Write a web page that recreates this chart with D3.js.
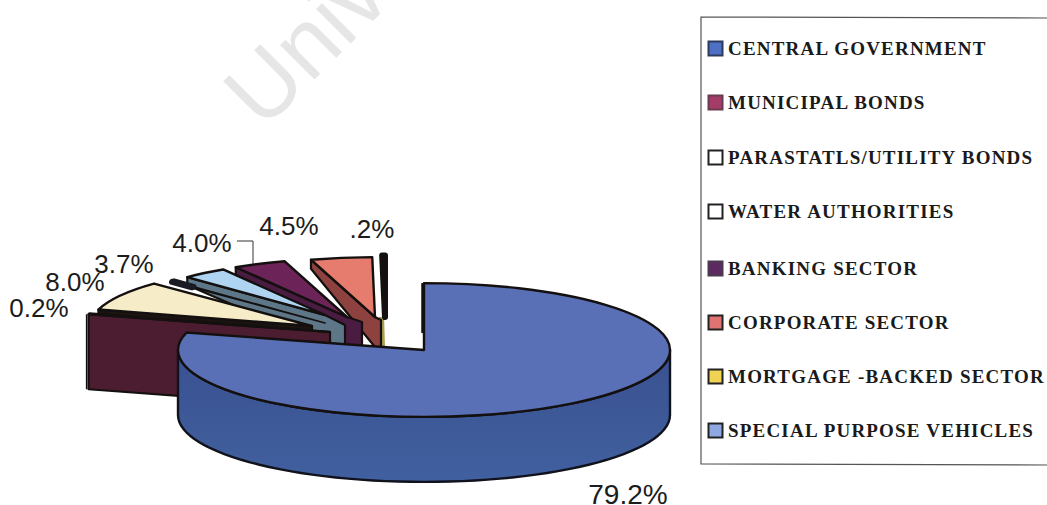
<!DOCTYPE html>
<html><head><meta charset="utf-8">
<script src="https://cdn.jsdelivr.net/npm/d3@7/dist/d3.min.js"></script>
<style>html,body{margin:0;padding:0;background:#fff;overflow:hidden}svg{display:block}</style>
</head><body><svg id="c" width="1047" height="505"></svg>
<script>
const categories = ["CENTRAL GOVERNMENT","MUNICIPAL BONDS","PARASTATLS/UTILITY BONDS","WATER AUTHORITIES","BANKING SECTOR","CORPORATE SECTOR","MORTGAGE -BACKED SECTOR","SPECIAL PURPOSE VEHICLES"];
const shares = [79.2,0.2,8.0,3.7,4.0,4.5,0.2,0.2];
const shareLabels = ["79.2%","0.2%","8.0%","3.7%","4.0%","4.5%",".2%",""];
const pieSequence = [0,1,2,7,3,4,5,6];

// styling and layout, by category index
const topColors = ["#5a70b6","#3a1220","#f6edc8","#aed4f2","#6c2458","#e67c6e","#141414","#1a1a24"];
const wallColors = ["#3d5592","#4c1d30","#1c1410","#5e7788","#4a1c42","#8e4240","#a8a24e","#1a1a24"];
const swatchFill = ["#4f6fc4","#a33c66","#ffffff","#ffffff","#5c2a60","#e07472","#f0d254","#90a8e0"];
const swatchEdge = ["#2c3a5c","#6a3a50","#222222","#222222","#4a3a50","#222222","#222222","#222222"];
const geom = [
 {dx:0,   dy:0,  r:246, rim:65, apex:65, wx:0,  wy:0},
 {dx:-94, dy:-18,r:250, rim:75, apex:75, wx:0,  wy:0},
 {dx:-112,dy:-24,r:222, rim:4,  apex:10, wx:0,  wy:0},
 {dx:-99, dy:-35,r:196, rim:8,  apex:30, wx:20, wy:10},
 {dx:-77, dy:-33,r:214, rim:8,  apex:28, wx:15, wy:5},
 {dx:-49, dy:-33,r:220, rim:9,  apex:30, wx:6,  wy:3},
 {dx:-39, dy:-33,r:226, rim:0,  apex:30, wx:-6, wy:0},
 {dx:-99, dy:-27,r:215, rim:0,  apex:0,  wx:0,  wy:0}
];
const drawOrder = [6,5,4,3,7,2,1,0];
const cx=424, cy=350, k=0.272;
const labelPos = {0:[628,504],1:[39,317],2:[75,291],3:[124,273],4:[202,252],5:[289,235],6:[372,238]};
const legendY = [48,102,157,211,268,322,376,430];

const svg=d3.select("#c");

svg.append("text").text("Univ").attr("transform","translate(263,131) rotate(-45)")
  .attr("font-family","Liberation Sans").attr("font-size",92).attr("fill","#e6e6e6");

const pie=d3.pie().value(d=>d.v).sort((a,b)=>pieSequence.indexOf(a.i)-pieSequence.indexOf(b.i));
const arcs=pie(shares.map((v,i)=>({v,i})));
const byIndex={}; arcs.forEach(a=>byIndex[a.data.i]=a);

const ex=(g,a,ox,oy)=>[ox+g.r*Math.sin(a), oy-g.r*k*Math.cos(a)];
const g0=svg.append("g");

const grad=svg.append("defs").append("linearGradient").attr("id","w").attr("x1",0).attr("x2",0).attr("y1",0).attr("y2",1);
grad.append("stop").attr("offset","0%").attr("stop-color","#3a5190");
grad.append("stop").attr("offset","100%").attr("stop-color","#41609f");

drawOrder.forEach(i=>{
  const a=byIndex[i], g=geom[i], ox=cx+g.dx, oy=cy+g.dy;
  if(i===0){
    const lo=Math.PI/2, hi=Math.PI*1.5;
    const t=d3.range(0,61).map(n=>lo+(hi-lo)*n/60);
    const pts=t.map(x=>ex(g,x,ox,oy)).concat(t.slice().reverse().map(x=>{const p=ex(g,x,ox,oy);return [p[0],p[1]+g.rim];}));
    g0.append("path").attr("d",d3.line()(pts)+"Z").attr("fill","url(#w)").attr("stroke","#10121c").attr("stroke-width",2.4).attr("stroke-linejoin","round");
  } else if(i!==7){
    const p=ex(g,a.startAngle,ox,oy);
    const pts=[[ox,oy],p,[p[0],p[1]+g.rim],[ox,oy+g.apex],[ox+g.wx,oy+g.apex],[ox+g.wx,oy+g.wy]];
    g0.append("path").attr("d",d3.line()(pts)+"Z").attr("fill",wallColors[i])
      .attr("stroke",i===6?"none":"#14100f").attr("stroke-width",2.2).attr("stroke-linejoin","round");
  }
  const thinRim = i===7;
  const arc=d3.arc().innerRadius(0).outerRadius(g.r);
  g0.append("path").attr("d",arc(a)).attr("transform",`translate(${ox},${oy}) scale(1,${k})`)
    .attr("fill",topColors[i]).attr("stroke","#14100f").attr("vector-effect","non-scaling-stroke")
    .attr("stroke-width",i===6?6:(thinRim?1.6:2.4)).attr("stroke-linejoin","round");
  if(thinRim){
    const rimArc=d3.arc().innerRadius(g.r*0.87).outerRadius(g.r);
    g0.append("path").attr("d",rimArc(a)).attr("transform",`translate(${ox},${oy}) scale(1,${k})`)
      .attr("fill",topColors[i]).attr("stroke",topColors[i]).attr("vector-effect","non-scaling-stroke")
      .attr("stroke-width",6).attr("stroke-linejoin","round");
  }
  if(i===0){
    const p=ex(g,a.startAngle,ox,oy);
    g0.append("line").attr("x1",p[0]-1).attr("x2",p[0]-1).attr("y1",p[1]).attr("y2",p[1]+50).attr("stroke","#111").attr("stroke-width",3.5);
  }
});

const g1=geom[1], p1=ex(g1,byIndex[1].startAngle,cx+g1.dx,cy+g1.dy);
g0.append("line").attr("x1",p1[0]-2).attr("x2",p1[0]-2).attr("y1",p1[1]).attr("y2",p1[1]+g1.rim).attr("stroke","#111").attr("stroke-width",1.6);

Object.keys(labelPos).forEach(i=>{
  svg.append("text").text(shareLabels[i]).attr("x",labelPos[i][0]).attr("y",labelPos[i][1])
   .attr("text-anchor","middle").attr("font-family","Liberation Sans").attr("font-size",i==0?28:26).attr("fill","#1c1c1c");
});
svg.append("path").attr("d",d3.line()([[237,241],[253,241],[253,264]])).attr("fill","none").attr("stroke","#333").attr("stroke-width",1);

svg.append("path").attr("d",d3.line()([[1047,18],[701,17],[701,464],[1047,465]])).attr("fill","none").attr("stroke","#555").attr("stroke-width",1.2);
categories.forEach((c,i)=>{
  const y=legendY[i];
  svg.append("rect").attr("x",708.5).attr("y",y-6.5).attr("width",14).attr("height",14)
    .attr("fill",swatchFill[i]).attr("stroke",swatchEdge[i]).attr("stroke-width",2);
  svg.append("text").text(c).attr("x",728).attr("y",y+7)
    .attr("font-family","Liberation Serif").attr("font-weight","bold").attr("font-size",19).attr("letter-spacing",1.2).attr("fill","#1a1a1a");
});
</script></body></html>
